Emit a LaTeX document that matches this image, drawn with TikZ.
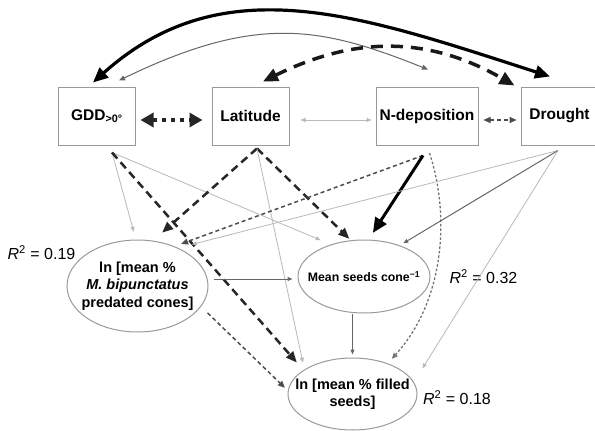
\documentclass[tikz,border=0pt]{standalone}
\usepackage{fontspec}
\setmainfont{Liberation Sans}
\usetikzlibrary{arrows.meta,shapes.geometric}

\tikzset{
  box/.style={draw=black!40, line width=1pt, minimum width=77pt, minimum height=58pt, inner sep=0pt, font=\bfseries\fontsize{15.5}{18}\selectfont},
  oval/.style={ellipse, draw=black!40, line width=1pt, inner xsep=-16pt, inner ysep=0pt, align=center, font=\bfseries\fontsize{14.5}{17.5}\selectfont},
  rsq/.style={font=\fontsize{16}{19}\selectfont},
  faint/.style={black!28, line width=0.8pt, >={Triangle[length=5pt,width=4pt]}},
  mid/.style={black!60, line width=1pt, >={Triangle[length=5pt,width=4pt]}},
  thinarc/.style={black!60, line width=1pt, >={Triangle[length=6pt,width=5pt]}},
  heavy/.style={black, line width=3.2pt, >={Triangle[length=15pt,width=13pt]}},
  heavydash/.style={black!90, line width=3.5pt, dash pattern=on 12pt off 8pt, >={Triangle[length=15pt,width=13pt]}},
  bolddash/.style={black!85, line width=2.5pt, dash pattern=on 8pt off 5pt, >={Triangle[length=11pt,width=9pt]}},
  middash/.style={black!70, line width=1.5pt, dash pattern=on 4pt off 3pt, >={Triangle[length=7pt,width=6pt]}},
  dotty/.style={black!85, line width=4.5pt, dash pattern=on 4pt off 5pt, >={Triangle[length=13pt,width=14pt]}},
  dotline/.style={black!55, line width=1.3pt, dash pattern=on 2.5pt off 2pt, >={Triangle[length=6pt,width=5pt]}}
}

\begin{document}
\begin{tikzpicture}[x=1pt,y=-1pt]
  \useasboundingbox (0,0) rectangle (595,431);

  % Drivers
  \node[box] (gdd) at (97,116) {GDD\textsubscript{>0°}};
  \node[box] (lat) at (250.5,116) {Latitude};
  \node[box, minimum width=102pt] (nd) at (427,116) {N-deposition};
  \node[box] (dr) at (559.5,116) {Drought};

  % Responses
  \node[oval, minimum width=141pt, minimum height=92pt] (pred) at (137.5,286) {ln [mean \%\\\textit{M. bipunctatus}\\predated cones]};
  \node[oval, minimum width=132pt, minimum height=73pt, font=\bfseries\fontsize{12.3}{15}\selectfont] (mean) at (364,276.5) {Mean seeds cone\textsuperscript{−1}};
  \node[oval, minimum width=129pt, minimum height=72pt] (filled) at (352.5,394) {ln [mean \% filled\\seeds]};

  % R squared values
  \node[rsq] (r1) at (41.5,253) {\textit{R}\textsuperscript{2} = 0.19};
  \node[rsq] (r2) at (483.5,277) {\textit{R}\textsuperscript{2} = 0.32};
  \node[rsq] (r3) at (457,398) {\textit{R}\textsuperscript{2} = 0.18};

  % Exit points under the boxes
  \coordinate (gdd-out) at ([xshift=15pt,yshift=-7pt]gdd.south);
  \coordinate (lat-out) at ([xshift=6.5pt,yshift=-3pt]lat.south);
  \coordinate (nd-out) at ([xshift=-4pt,yshift=-10pt]nd.south);
  \coordinate (dr-out) at ([xshift=-1.5pt,yshift=-5pt]dr.south);

  % Correlations between drivers
  \draw[heavy,<->] ([xshift=-4pt,yshift=4pt]gdd.north) .. controls (223.5,-34.5) and (362.3,16) .. ([xshift=-9.5pt,yshift=10pt]dr.north);
  \draw[thinarc,<->] ([xshift=22pt,yshift=6pt]gdd.north) .. controls (257,13.7) and (320.7,26.6) .. ([xshift=1pt,yshift=17pt]nd.north);
  \draw[heavydash,<->] ([xshift=12.5pt,yshift=5pt]lat.north) .. controls (346.5,40.3) and (421,31.7) .. ([xshift=-6pt,yshift=1pt]dr.north west);
  \draw[dotty,<->,shorten <=4.5pt,shorten >=9pt] ([yshift=-4pt]gdd.east) -- ([yshift=-4pt]lat.west);
  \draw[faint,<->,shorten <=11pt,shorten >=4pt] ([yshift=-4pt]lat.east) -- ([yshift=-4pt]nd.west);
  \draw[middash,<->,shorten <=5pt,shorten >=4pt] ([yshift=-4pt]nd.east) -- ([yshift=-4pt]dr.west);

  % Paths from GDD
  \draw[faint,->,shorten >=8pt] (gdd-out) -- (pred.92);
  \draw[faint,->,shorten >=11pt] (gdd-out) -- (mean.136);
  \draw[bolddash,->,shorten >=10pt] (gdd-out) -- (filled.154);

  % Paths from latitude
  \draw[bolddash,->,shorten >=12pt] (lat-out) -- (pred.71);
  \draw[bolddash,->,shorten >=2pt] (lat-out) -- (mean.110);
  \draw[faint,->,shorten >=7pt] (lat-out) -- (filled.153);

  % Paths from N-deposition
  \draw[middash,->,shorten >=7pt] (nd-out) -- (pred.47);
  \draw[heavy,line width=3pt,->,shorten >=8pt] (nd-out) -- (mean.83);
  \draw[dotline,->,shorten <=8pt,shorten >=6pt] (nd.south) .. controls (450,215) and (445,300) .. (filled.41);

  % Paths from drought
  \draw[faint,->,shorten >=14pt] (dr-out) -- (pred.43);
  \draw[mid,->,shorten >=4pt] (dr-out) -- (mean.41);
  \draw[faint,->,shorten >=16pt] (dr-out) -- (filled.11);

  % Paths between responses
  \draw[mid,->,shorten <=5pt,shorten >=5pt] ([yshift=7pt]pred.east) -- ([yshift=-2.5pt]mean.west);
  \draw[middash,->,shorten <=9pt,shorten >=4pt] (pred.342) -- (filled.177);
  \draw[mid,->,shorten >=3pt] (mean.south -| filled.north) -- (filled.north);
\end{tikzpicture}
\end{document}
